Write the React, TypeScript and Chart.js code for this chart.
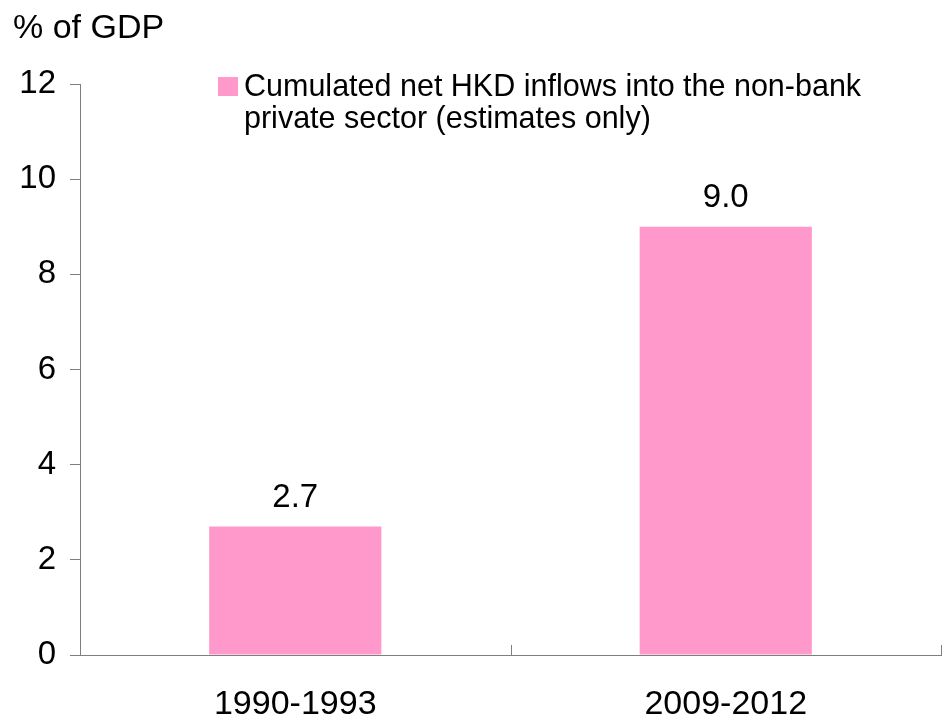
import React, { useEffect, useRef } from "react";
import { Chart, registerables } from "chart.js";

Chart.register(...registerables);

const categories = ["1990-1993", "2009-2012"];
const values = [2.7, 9.0];
const valueLabels = ["2.7", "9.0"];
const seriesName = ["Cumulated net HKD inflows into the non-bank", "private sector (estimates only)"];
const yTitle = "% of GDP";

const FONT = "Arial, 'Liberation Sans', Helvetica, sans-serif";
const PINK = "#FF99CC";
const AXIS = "#7f7f7f";

const overlay = {
  id: "overlay",
  afterDraw(chart: any) {
    const ctx = chart.ctx;
    const x = chart.scales.x;
    const y = chart.scales.y;
    const area = chart.chartArea;
    ctx.save();
    // x axis category boundary ticks (upward)
    ctx.strokeStyle = AXIS;
    ctx.lineWidth = 1;
    const half = (x.getPixelForValue(1) - x.getPixelForValue(0)) / 2;
    const bounds = [x.getPixelForValue(0) - half, x.getPixelForValue(0) + half, x.getPixelForValue(1) + half];
    bounds.forEach((bx: number) => {
      const px = Math.round(bx) + 0.5;
      ctx.beginPath();
      ctx.moveTo(px, area.bottom);
      ctx.lineTo(px, area.bottom - 10);
      ctx.stroke();
    });
    // value labels
    ctx.fillStyle = "#000";
    ctx.font = `33px ${FONT}`;
    ctx.textAlign = "center";
    ctx.textBaseline = "alphabetic";
    values.forEach((v, i) => {
      ctx.fillText(valueLabels[i], x.getPixelForValue(i), y.getPixelForValue(v) - 20);
    });
    // axis title
    ctx.textAlign = "left";
    ctx.font = `34px ${FONT}`;
    ctx.fillText(yTitle, 13, 38);
    // legend
    ctx.fillStyle = PINK;
    ctx.fillRect(218, 77, 20, 19);
    ctx.fillStyle = "#000";
    ctx.font = `30.5px ${FONT}`;
    ctx.fillText(seriesName[0], 244, 96);
    ctx.fillText(seriesName[1], 244, 128);
    ctx.restore();
  },
};

export default function App() {
  const ref = useRef<HTMLCanvasElement>(null);
  useEffect(() => {
    if (!ref.current) return;
    const chart = new Chart(ref.current, {
      type: "bar",
      data: {
        labels: categories,
        datasets: [
          {
            label: seriesName.join(" "),
            data: values,
            backgroundColor: PINK,
            borderWidth: 0,
            categoryPercentage: 1,
            barPercentage: 0.4,
          },
        ],
      },
      options: {
        animation: false,
        responsive: false,
        maintainAspectRatio: false,
        layout: { padding: { top: 84, right: 4, left: 0, bottom: 0 } },
        plugins: { legend: { display: false }, tooltip: { enabled: false } },
        scales: {
          x: {
            grid: { display: false, drawTicks: false },
            border: { color: AXIS, width: 1 },
            ticks: { color: "#000", font: { family: FONT, size: 34 }, padding: 29 },
            afterFit(s: any) {
              s.height = 63;
            },
          },
          y: {
            min: 0,
            max: 12,
            grid: { drawOnChartArea: false, drawTicks: true, tickLength: 10, color: AXIS },
            border: { color: AXIS, width: 1 },
            ticks: { stepSize: 2, color: "#000", font: { family: FONT, size: 33 }, padding: 14 },
            afterFit(s: any) {
              s.width = 80;
            },
          },
        },
      },
      plugins: [overlay],
    });
    return () => chart.destroy();
  }, []);
  return (
    <div style={{ position: "fixed", left: 0, top: 0, width: 945, height: 718, background: "#fff" }}>
      <canvas ref={ref} width={945} height={718} />
    </div>
  );
}
